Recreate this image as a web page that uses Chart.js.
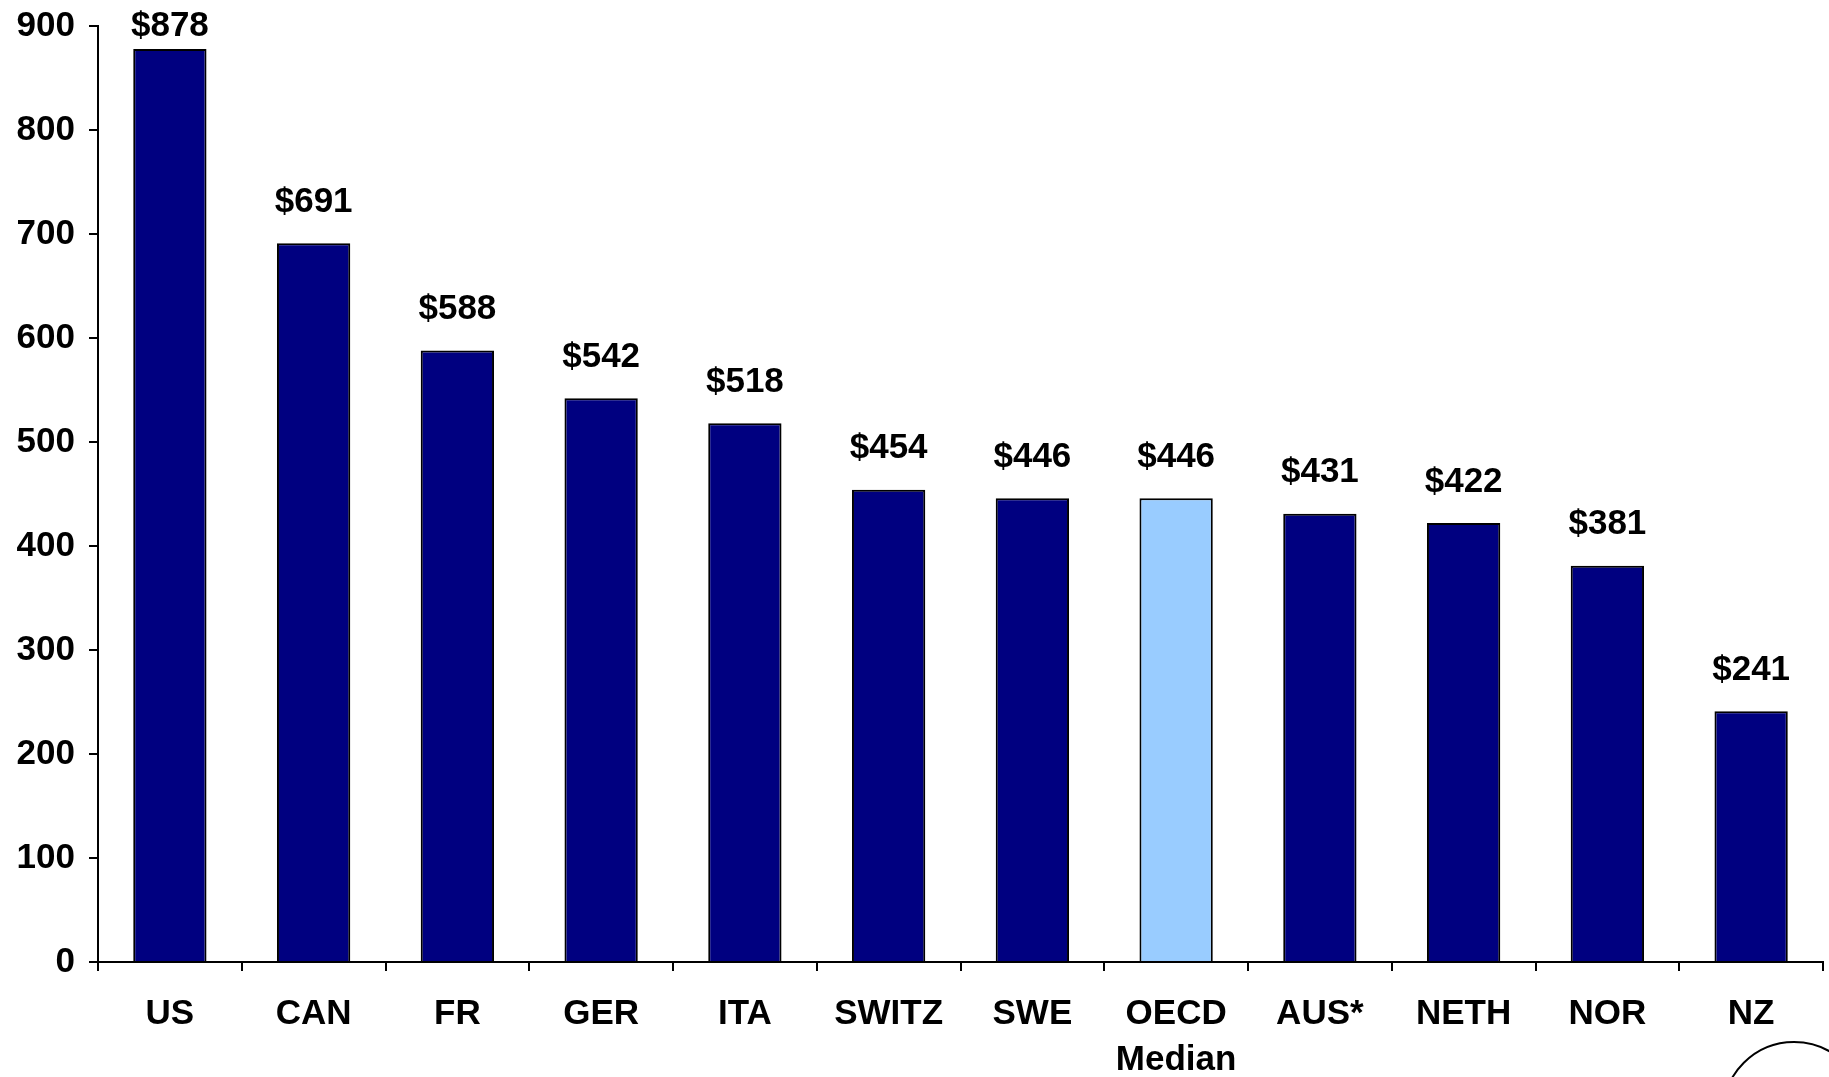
<!DOCTYPE html>
<html>
<head>
<meta charset="utf-8">
<script src="https://cdn.jsdelivr.net/npm/chart.js@4/dist/chart.umd.min.js"></script>
<style>
  html, body { margin: 0; padding: 0; background: #fff; }
  #wrap { width: 1829px; height: 1077px; }
</style>
</head>
<body>
<div id="wrap"><canvas id="spend"></canvas></div>
<script>
var countries = ["US", "CAN", "FR", "GER", "ITA", "SWITZ", "SWE", ["OECD", "Median"], "AUS*", "NETH", "NOR", "NZ"];
var spending = [878, 691, 588, 542, 518, 454, 446, 446, 431, 422, 381, 241];
var barColors = ['#000080', '#000080', '#000080', '#000080', '#000080', '#000080',
                 '#000080', '#99CCFF', '#000080', '#000080', '#000080', '#000080'];
var yTicks = [0, 100, 200, 300, 400, 500, 600, 700, 800, 900];

Chart.defaults.font.family = "'Liberation Sans', Arial, sans-serif";
Chart.defaults.font.weight = 'bold';
Chart.defaults.color = '#000';

// dollar labels above each bar
var valueLabels = {
    id: 'valueLabels',
    afterDatasetsDraw: function(chart) {
        var ctx = chart.ctx;
        var meta = chart.getDatasetMeta(0);
        ctx.save();
        ctx.font = "bold 35px 'Liberation Sans', Arial, sans-serif";
        ctx.fillStyle = '#000';
        ctx.textAlign = 'center';
        ctx.textBaseline = 'middle';
        meta.data.forEach(function(bar, i) {
            var y = Math.max(bar.y - 41, 26);
            ctx.fillText('$' + spending[i], bar.x, y);
        });
        ctx.restore();
    }
};

// stray circle in the lower right corner of the slide
var cornerCircle = {
    id: 'cornerCircle',
    afterDraw: function(chart) {
        var ctx = chart.ctx;
        ctx.save();
        ctx.strokeStyle = '#000';
        ctx.lineWidth = 2;
        ctx.beginPath();
        ctx.arc(1794, 1113, 71, 0, Math.PI * 2);
        ctx.stroke();
        ctx.restore();
    }
};

new Chart(document.getElementById('spend').getContext('2d'), {
    type: 'bar',
    data: {
        labels: countries,
        datasets: [{
            data: spending,
            backgroundColor: barColors,
            borderColor: '#000',
            borderWidth: 2,
            borderSkipped: 'bottom',
            barPercentage: 0.51,
            categoryPercentage: 1
        }]
    },
    options: {
        responsive: true,
        maintainAspectRatio: false,
        animation: false,
        layout: { padding: { top: 26, right: 6, left: 0, bottom: 0 } },
        plugins: {
            legend: { display: false },
            tooltip: { enabled: false }
        },
        scales: {
            x: {
                offset: true,
                grid: {
                    offset: true,
                    drawOnChartArea: false,
                    color: '#000',
                    tickLength: 9,
                    lineWidth: 2
                },
                border: { color: '#000', width: 2 },
                ticks: {
                    font: { size: 35, weight: 'bold', lineHeight: 1.32 },
                    padding: 20,
                    maxRotation: 0,
                    autoSkip: false
                },
                afterFit: function(scale) { scale.height = 115; }
            },
            y: {
                min: 0,
                max: 900,
                afterBuildTicks: function(scale) {
                    scale.ticks = yTicks.map(function(v) { return { value: v }; });
                },
                grid: {
                    drawOnChartArea: false,
                    color: '#000',
                    tickLength: 9,
                    lineWidth: 2
                },
                border: { color: '#000', width: 2 },
                ticks: {
                    font: { size: 35, weight: 'bold', lineHeight: 0.5 },
                    padding: 14
                },
                afterFit: function(scale) { scale.width = 98; }
            }
        }
    },
    plugins: [valueLabels, cornerCircle]
});
</script>
</body>
</html>
